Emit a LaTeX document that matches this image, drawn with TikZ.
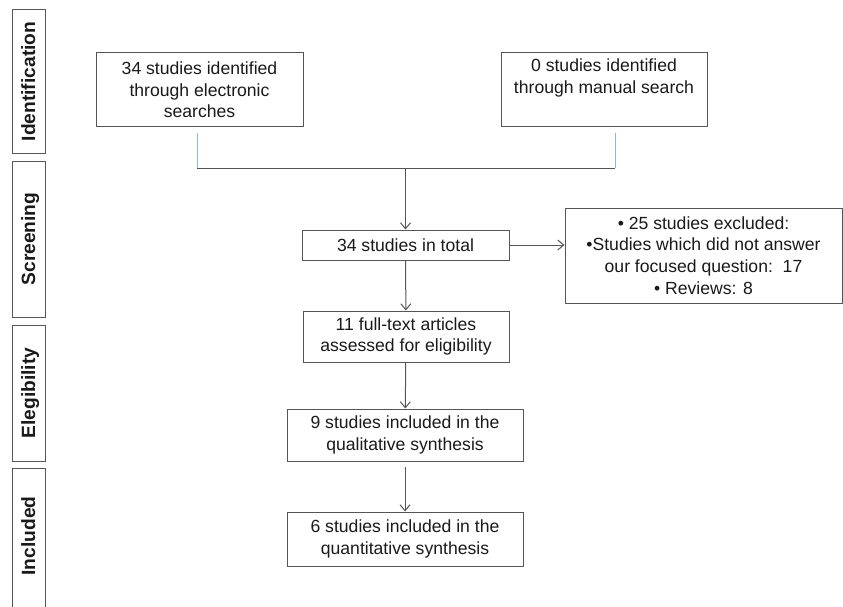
\documentclass[tikz,border=0pt]{standalone}
\usepackage{fontspec}
\setmainfont{Liberation Sans}
\usepackage{tikz}
\usepackage{xcolor}
\usetikzlibrary{arrows.meta,positioning,calc}
\definecolor{ink}{HTML}{555555}
\definecolor{textink}{HTML}{1A1A1A}
\definecolor{stubblue}{HTML}{8EB4E3}
\tikzset{
  flowbox/.style={draw=ink,fill=white,line width=1pt,
                  inner sep=0pt,align=center,text=textink,
                  font=\fontsize{17.6}{21.6}\selectfont},
  phasebox/.style={draw=ink,line width=1pt},
  phaselabel/.style={rotate=90,anchor=base,inner sep=0pt,text=textink,
                     font=\fontsize{19.2}{22}\selectfont\bfseries},
  flowline/.style={draw=ink,line width=1pt},
  flowarr/.style={-{Straight Barb[length=6pt,width=10pt]},draw=ink,line width=1pt},
  stubline/.style={draw=stubblue,line width=1pt}
}

\begin{document}
\begin{tikzpicture}[x=1pt,y=-1pt]
  \useasboundingbox (0,0) rectangle (843,607);

  % phase bar on the left
  \draw[phasebox] (12,10) rectangle (45,153);
  \draw[phasebox] (12,161) rectangle (45,317);
  \draw[phasebox] (12,325) rectangle (45,461);
  \draw[phasebox] (12,468) rectangle (45,612);
  \node[phaselabel] (lid) at (35,81.5) {Identification};
  \node[phaselabel] (lsc) at (35,239) {Screening};
  \node[phaselabel] (lel) at (35,393) {Elegibility};
  \node[phaselabel] (lin) at (35,536) {Included};

  % boxes
  \node[flowbox,minimum width=207pt,minimum height=74pt] (elec) at (199.5,90)
    {34 studies identified\\through electronic\\searches};
  \node[flowbox,minimum width=206pt,minimum height=74pt] (manual) at (604,90)
    {0 studies identified\\through manual search\\\strut};
  \node[flowbox,minimum width=207pt,minimum height=30pt] (total) at (405.5,245)
    {34 studies in total};
  \node[flowbox,minimum width=277pt,minimum height=95pt] (excl) at (703.5,255.5)
    {\textbullet{} 25 studies excluded:\\\textbullet Studies which did not answer\\our focused question:\ \ 17\\\textbullet{} Reviews: 8};
  \node[flowbox,minimum width=206pt,minimum height=51pt] (full) at (406,336.5)
    {11 full-text articles\\assessed for eligibility};
  \node[flowbox,minimum width=236pt,minimum height=52pt] (qual) at (405,435)
    {9 studies included in the\\qualitative synthesis};
  \node[flowbox,minimum width=236pt,minimum height=54pt] (quant) at (405,539)
    {6 studies included in the\\quantitative synthesis};

  % joining the two sources
  \coordinate (jn) at (405.5,168);
  \draw[stubline] ($(elec.south)+(-2.5,6)$) coordinate (s1) -- (s1 |- jn) coordinate (c1);
  \draw[stubline] ($(manual.south)+(11,6)$) coordinate (s2) -- (s2 |- jn) coordinate (c2);
  \draw[flowline] (c1) -- (c2);
  \draw[flowarr] (jn) -- (total);

  % main flow
  \draw[flowarr] (total.east) -- (total.east -| excl.west);
  \draw[flowarr] (total) -- (full);
  \draw[flowarr] (full) -- (qual);
  \draw[flowarr,shorten <=5pt] (qual) -- (quant);
\end{tikzpicture}
\end{document}
